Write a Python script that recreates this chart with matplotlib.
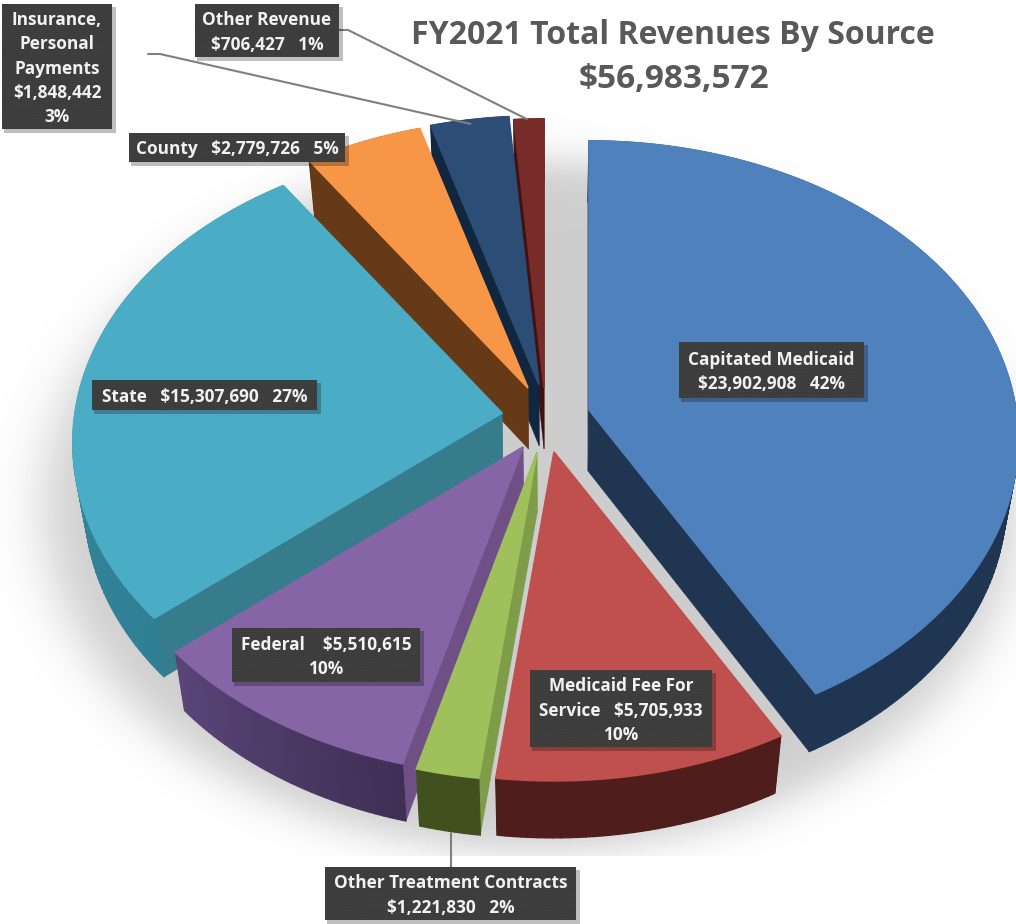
import numpy as np
import matplotlib
matplotlib.use("Agg")
import matplotlib.pyplot as plt
from matplotlib.patches import Polygon, Rectangle
from matplotlib.collections import PolyCollection
from matplotlib.colors import to_rgb

# ---------- data ----------
categories = ["Capitated Medicaid", "Medicaid Fee For Service", "Other Treatment Contracts",
              "Federal", "State", "County", "Insurance, Personal Payments", "Other Revenue"]
values = [23902908, 5705933, 1221830, 5510615, 15307690, 2779726, 1848442, 706427]
total_label = "$56,983,572"
title_label = "FY2021 Total Revenues By Source"
label_texts = [
    "Capitated Medicaid\n$23,902,908   42%",
    "Medicaid Fee For\nService   $5,705,933\n10%",
    "Other Treatment Contracts\n$1,221,830   2%",
    "Federal    $5,510,615\n10%",
    "State   $15,307,690   27%",
    "County   $2,779,726   5%",
    "Insurance,\nPersonal\nPayments\n$1,848,442\n3%",
    "Other Revenue\n$706,427   1%",
]

# ---------- style / layout ----------
top_colors = ["#4F81BD", "#C0504D", "#9FC05A", "#8565A6", "#4BACC6", "#F79646", "#2C4D75", "#772C2A"]
side_colors = ["#1F3552", "#4F1D1B", "#7F9C48", "#6E5087", "#377C8D", "#663A17", "#11263F", "#3F1211"]
rim_a = ["#1F3552", "#4F1D1B", "#40511F", "#3F2F55", "#2F7F95", "#663A17", "#11263F", "#3F1211"]
rim_b = ["#1F3552", "#4F1D1B", "#40511F", "#5A4478", "#3A8BA0", "#663A17", "#11263F", "#3F1211"]
# exploded offset of each slice's tip from the pie centre (screen px)
explode_px = [(44, -10), (9, 32), (-8, 32), (-22, 27), (-43, -7), (-17, -32), (-6, -35), (-1, -32)]
paint_order = [7, 6, 5, 4, 0, 3, 2, 1]
box_px = [(679, 342, 864, 398), (530, 670, 712, 747), (325, 867, 576, 920), (232, 628, 420, 682),
          (92, 380, 317, 410), (129, 133, 345, 162), (2, 4, 112, 129), (195, 4, 339, 57)]
CX, CY, R, RY, K, DEPTH, SHRINK = 545, 420, 427, 296, 0.1, 61, 0.975
FONT = "Open Sans"

plt.rcParams["hatch.linewidth"] = 0.4
fig = plt.figure(figsize=(10.16, 9.24), dpi=100)
ax = fig.add_axes([0, 0, 1, 1])
ax.set_xlim(0, 1016)
ax.set_ylim(924, 0)
ax.axis("off")

# soft shadow below the pie
yy, xx = np.mgrid[0:856, 0:1016]
rr = np.hypot((xx - 530) / 485, (yy - 505) / 345)
soft = 0.5 * (1 - np.tanh((rr - 1) * 430 / 30))
shade = 1 - soft * (1 - 205 / 255)
ax.imshow(shade, cmap="gray", vmin=0, vmax=1, extent=(0, 1016, 856, 0), zorder=0, aspect="auto")


def project(X, Y, ox, oy):
    s = 1 / (1 - K * Y)
    return CX + ox + R * X * s, CY + oy + RY * Y * s


def low(px, py):
    return CX + (px - CX) * SHRINK, py + DEPTH - 0.011 * np.maximum(py - CY, 0)


angles = np.cumsum([0] + values) / sum(values) * 2 * np.pi
z = 1
for i in paint_order:
    ox, oy = explode_px[i]
    th = np.linspace(angles[i], angles[i + 1], max(6, int((angles[i + 1] - angles[i]) * 60)))
    ex, ey = project(np.sin(th), -np.cos(th), ox, oy)
    ax_, ay_ = CX + ox, CY + oy
    bx, by = low(ex, ey)
    abx, aby = ax_ + ox * (SHRINK - 1), ay_ + DEPTH
    # radial walls
    for j in (0, -1):
        ax.add_patch(Polygon([(ax_, ay_), (ex[j], ey[j]), (bx[j], by[j]), (abx, aby)],
                             closed=True, fc=side_colors[i], ec=side_colors[i], lw=0.3, zorder=z))
    # outer wall
    ca, cb = np.array(to_rgb(rim_a[i])), np.array(to_rgb(rim_b[i]))
    t = np.linspace(0, 1, len(th) - 1)
    quads = [[(ex[n], ey[n]), (ex[n + 1], ey[n + 1]), (bx[n + 1], by[n + 1]), (bx[n], by[n])]
             for n in range(len(th) - 1)]
    cols = [tuple(ca + (cb - ca) * v) for v in t]
    ax.add_collection(PolyCollection(quads, facecolors=cols, edgecolors=cols, linewidths=0.9, zorder=z))
    # top face
    ax.add_patch(Polygon(np.r_[[[ax_, ay_]], np.c_[ex, ey]], closed=True, fc=top_colors[i],
                         ec=top_colors[i], lw=1.2, zorder=z + 0.5))
    z += 1

# leader lines (from labels to their slices)
leader = dict(color="#7F7F7F", lw=1.5, zorder=30, solid_capstyle="round")
ox, oy = explode_px[6]
mid = (angles[6] + angles[7]) / 2
lx, ly = project(np.sin(mid), -np.cos(mid), ox, oy)
ax.plot([148, 160, lx + 1], [54, 54, ly + 4], **leader)
ox, oy = explode_px[7]
mid = (angles[7] + angles[8]) / 2
lx, ly = project(np.sin(mid), -np.cos(mid), ox, oy)
ax.plot([339, 348, lx - 2], [30, 30, ly], **leader)
ax.plot([451, 451], [833, 867], **leader)

# labels
for txt, (x0, y0, x1, y1) in zip(label_texts, box_px):
    ax.add_patch(Rectangle((x0 + 2, y0 + 3), x1 - x0 + 2, y1 - y0 + 1, fc="#000000", alpha=0.25,
                           lw=0, zorder=40))
    ax.add_patch(Rectangle((x0, y0), x1 - x0, y1 - y0, fc="#3B3B3B", ec="#4A4A4A", hatch="........",
                           lw=0, zorder=41))
    ax.text((x0 + x1) / 2, (y0 + y1) / 2 + 2, txt, color="#F2F2F2", ha="center", va="center",
            family=FONT, weight="bold", fontsize=12.4, linespacing=1.46, zorder=42)

ax.text(673, 36, title_label, color="#595959", ha="center", va="center", family=FONT,
        weight="bold", fontsize=23, zorder=50)
ax.text(674, 79, total_label, color="#595959", ha="center", va="center", family=FONT,
        weight="bold", fontsize=24, zorder=50)

fig.savefig("out.png", dpi=100)
